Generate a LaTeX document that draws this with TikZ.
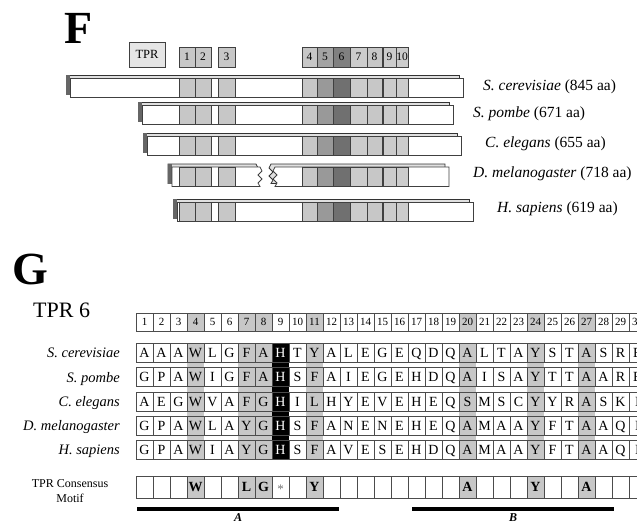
\documentclass[tikz,border=0pt]{standalone}
\usepackage{fontspec}
\setmainfont{Liberation Serif}
\newcommand\fsz[1]{\fontsize{#1}{#1}\selectfont}
% repeat: number / left / right / label shade / bar shade
\newcommand\replist{1/179/195/22/22, 2/195/211/22/22, 3/218/235/22/22,
  4/302/317/22/22, 5/317/333/36/40, 6/333/350/50/56, 7/350/367/20/20,
  8/367/382/22/22, 9/383/396/20/20, 10/396/408/20/20}
\tikzset{
  rep/.style={draw=black!75, line width=0.7pt},
  barfront/.style={draw=black!75, line width=0.8pt, fill=white},
  barback/.style={draw=black!80, line width=0.8pt, fill=black!12},
  replabel/.style={font=\fsz{11.5}, inner sep=0pt},
  spname/.style={font=\fsz{15.5}, anchor=base west, inner sep=0pt},
  gname/.style={font=\fsz{14.5}\itshape, anchor=base east, inner sep=0pt},
  cell/.style={draw=black!70, line width=0.6pt, minimum width=17pt,
    minimum height=19pt, inner sep=0pt, font=\fsz{14},
    text height=9.3pt, text depth=0pt},
  numcell/.style={cell, minimum height=18pt, font=\fsz{11}, text height=7.3pt},
  motifcell/.style={cell, minimum height=22pt},
  motifres/.style={font=\fsz{14}\bfseries, inner sep=0pt},
  shade/.style={fill=black!22},
  motifbar/.style={line width=4pt},
}
% x0, x1, top, name of the end point
\newcommand\protbar[4]{%
  \draw[barback] (#1-4,#3-3) rectangle (#2-4,#3+16.5);
  \fill[black!60] (#1-4,#3-3) rectangle (#1,#3+16.5);
  \draw[barfront] (#1,#3) rectangle (#2,#3+19.5);
  \coordinate (#4) at (#2,#3+9.75);
  \foreach \n/\xa/\xb/\la/\ba in \replist
    \draw[rep, fill=black!\ba] (\xa,#3) rectangle (\xb,#3+19.5);
}
\newcommand\dmelpath{(172,167) -- (260,167) -- (262,171) -- (258,175)
  -- (262,179) -- (258,183) -- (260,186.5) -- (172,186.5) -- cycle
  (275,167) -- (449,167) -- (449,186.5) -- (275,186.5) -- (277,183)
  -- (273,179) -- (277,175) -- (273,171) -- cycle}
\begin{document}
\begin{tikzpicture}[x=1pt,y=-1pt]
\useasboundingbox (0,0) rectangle (637,525);
\clip (0,0) rectangle (637,525);

% ---- F: domain structure
\node[font=\fsz{46}\bfseries, anchor=base west, inner sep=0pt] (labF) at (64,43) {F};
\node[draw=black!75, line width=0.7pt, fill=black!10, minimum width=36pt,
  minimum height=25pt, inner sep=0pt, font=\fsz{12.5}] (tpr) at (147,54.5) {TPR};
\foreach \n/\xa/\xb/\la/\ba in \replist {
  \draw[rep, fill=black!\la] (\xa,47) rectangle (\xb,67);
  \node[replabel] (rep\n) at ({(\xa+\xb)/2},57) {\n};
}

\protbar{70}{463}{78}{sc}
\protbar{142}{453}{105}{sp}
\protbar{147}{461}{136}{ce}
% D. melanogaster, broken bar
\draw[barback, shift={(-4,-3)}] \dmelpath;
\fill[black!60] (168,164) rectangle (172,183.5);
\draw[barfront] \dmelpath;
\foreach \n/\xa/\xb/\la/\ba in \replist
  \draw[rep, fill=black!\ba] (\xa,167) rectangle (\xb,186.5);
\coordinate (dm) at (449,176.75);
\protbar{177}{473}{202}{hs}

\node[spname] (nsc) at (483,90) {\textit{S. cerevisiae} (845 aa)};
\node[spname] (nsp) at (473,117) {\textit{S. pombe} (671 aa)};
\node[spname] (nce) at (485,147) {\textit{C. elegans} (655 aa)};
\node[spname] (ndm) at (473,177) {\textit{D. melanogaster} (718 aa)};
\node[spname] (nhs) at (497,212) {\textit{H. sapiens} (619 aa)};

% ---- G: alignment of TPR 6
\node[font=\fsz{46}\bfseries, anchor=base west, inner sep=0pt] (labG) at (12,284) {G};
\node[font=\fsz{22}, anchor=base west, inner sep=0pt] (tpr6) at (33,317) {TPR 6};

\foreach \col in {4,7,8,11,20,24,27} {
  \fill[shade] (119+17*\col,313) rectangle (136+17*\col,331);
  \fill[shade] (119+17*\col,343.5) rectangle (136+17*\col,459.5);
  \fill[shade] (119+17*\col,476) rectangle (136+17*\col,498);
}
\fill (272,343.5) rectangle (289,459.5);

\foreach \col in {1,...,30}
  \node[numcell] (num\col) at (127.5+17*\col,322) {\col};

\foreach \nm [count=\row] in {S. cerevisiae, S. pombe, C. elegans,
    D. melanogaster, H. sapiens} {
  \pgfmathsetmacro\yr{353+24.2*(\row-1)}
  \node[gname] (g\row) at (120,\yr+4.8) {\nm};
}
\foreach \sq [count=\row] in {
    {A,A,A,W,L,G,F,A,H,T,Y,A,L,E,G,E,Q,D,Q,A,L,T,A,Y,S,T,A,S,R,E},
    {G,P,A,W,I,G,F,A,H,S,F,A,I,E,G,E,H,D,Q,A,I,S,A,Y,T,T,A,A,R,E},
    {A,E,G,W,V,A,F,G,H,I,L,H,Y,E,V,E,H,E,Q,S,M,S,C,Y,Y,R,A,S,K,I},
    {G,P,A,W,L,A,Y,G,H,S,F,A,N,E,N,E,H,E,Q,A,M,A,A,Y,F,T,A,A,Q,I},
    {G,P,A,W,I,A,Y,G,H,S,F,A,V,E,S,E,H,D,Q,A,M,A,A,Y,F,T,A,A,Q,I}} {
  \pgfmathsetmacro\yr{353+24.2*(\row-1)}
  \foreach \res [count=\col] in \sq {
    \ifnum\col=9 \def\tc{white}\else\def\tc{black}\fi
    \node[cell, text=\tc] (s\row-\col) at (127.5+17*\col,\yr) {\res};
  }
}

% consensus motif
\node[align=center, font=\fontsize{12}{15}\selectfont, inner sep=0pt] (motif) at (70,491)
  {TPR Consensus\\Motif};
\foreach \col in {1,...,30}
  \node[motifcell] (m\col) at (127.5+17*\col,487) {};
\foreach \col/\res in {4/W,7/L,8/G,11/Y,20/A,24/Y,27/A}
  \node[motifres] (mr\col) at (m\col) {\res};
\node[font=\fsz{13}, text=black!55, inner sep=0pt] (mr9) at ([yshift=-2pt]m9.center) {*};

\coordinate (Aleft) at (137,509);
\coordinate (Aright) at (339,509);
\coordinate (Bleft) at (412,509);
\coordinate (Bright) at (614,509);
\draw[motifbar] (Aleft) -- (Aright)
  node[midway, below=3pt, font=\fsz{12}\bfseries\itshape, inner sep=0pt] (labA) {A};
\draw[motifbar] (Bleft) -- (Bright)
  node[midway, below=3pt, font=\fsz{12}\bfseries\itshape, inner sep=0pt] (labB) {B};
\end{tikzpicture}
\end{document}
